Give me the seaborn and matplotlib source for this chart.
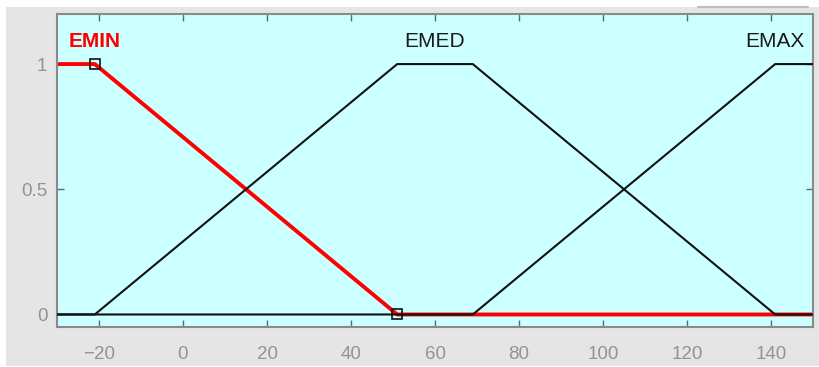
import matplotlib.pyplot as plt
import seaborn as sns
from matplotlib.lines import Line2D
from matplotlib.patches import Rectangle

sns.set_style('ticks')
plt.rcParams['font.family'] = ['Liberation Sans', 'DejaVu Sans']

# Membership functions (x breakpoints, membership values)
emin_x = [-30, -21, 51, 150]
emin_y = [1, 1, 0, 0]
emed_x = [-30, -21, 51, 69, 141, 150]
emed_y = [0, 0, 1, 1, 0, 0]
emax_x = [-30, 69, 141, 150]
emax_y = [0, 0, 1, 1]

# Selected MF vertices (square markers)
vert_x = [-21, 51]
vert_y = [1, 0]

# Labels
mf_names = ['EMIN', 'EMED', 'EMAX']
label_x = [-21, 60, 141]

x_ticks = [-20, 0, 20, 40, 60, 80, 100, 120, 140]
y_ticks = [0, 0.5, 1]
y_tick_labels = ['0', '0.5', '1']

PANEL = '#e5e5e5'
AX_BG = '#ccffff'
TICK_TXT = '#939393'


def main() -> None:
    fig = plt.figure(figsize=(8.19, 3.67), dpi=100, facecolor='white')
    # Gray figure panel
    fig.add_artist(Rectangle((6 / 819, 0.003), 1, (360 - 1) / 367,
                             transform=fig.transFigure, facecolor=PANEL,
                             edgecolor='none', zorder=0))
    fig.add_artist(Line2D([698 / 819, 808 / 819], [360 / 367, 360 / 367],
                          transform=fig.transFigure, color='#bdbdbd', lw=1.5))
    ax = fig.add_axes([57 / 819, 40 / 367, 756 / 819, 313 / 367])
    ax.set_facecolor(AX_BG)

    # Selected MF first, so the others draw over it
    sns.lineplot(x=emin_x, y=emin_y, ax=ax, color='red', lw=2.8, zorder=2)
    sns.lineplot(x=emed_x, y=emed_y, ax=ax, color='#111111', lw=1.5, zorder=3)
    sns.lineplot(x=emax_x, y=emax_y, ax=ax, color='#111111', lw=1.5, zorder=3)
    ax.plot(vert_x, vert_y, ls='none', marker='s', ms=6.5, mfc='none',
            mec='#111111', mew=1.2, zorder=4)

    for name, lx in zip(mf_names, label_x):
        if name == 'EMIN':
            ax.text(lx, 1.09, name, color='red', fontsize=15, fontweight='bold',
                    ha='center', va='center')
        else:
            ax.text(lx, 1.09, name, color='#1a1a1a', fontsize=15,
                    ha='center', va='center')

    ax.set_xlim(-30, 150)
    ax.set_ylim(-0.05, 1.2)
    ax.set_xticks(x_ticks)
    ax.set_yticks(y_ticks)
    ax.set_yticklabels(y_tick_labels)
    ax.tick_params(direction='in', length=5, width=1, color='#666666',
                   labelcolor=TICK_TXT, labelsize=13.5, top=True, right=True)
    ax.tick_params(axis='x', pad=14)
    ax.tick_params(axis='y', pad=7)
    for spine in ax.spines.values():
        spine.set_visible(True)
        spine.set_color('#8a8a8a')
        spine.set_linewidth(1.5)
    ax.set_xlabel('')
    ax.set_ylabel('')

    fig.savefig('out.png', dpi=100, facecolor='white')


if __name__ == '__main__':
    main()
